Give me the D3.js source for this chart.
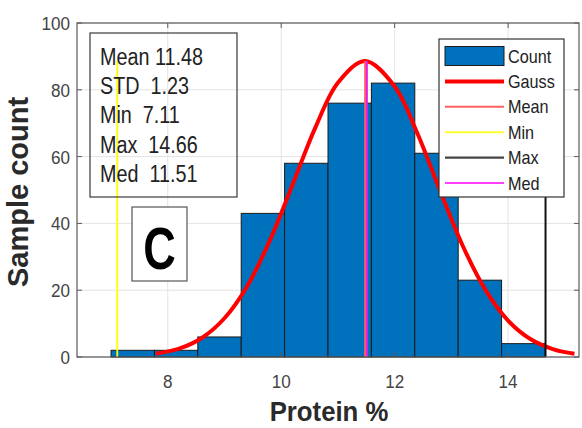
<!DOCTYPE html>
<html><head><meta charset="utf-8">
<script src="https://cdn.jsdelivr.net/npm/d3@7"></script>
<style>body{margin:0;background:#fff}svg{display:block;font-family:"Liberation Sans",Arial,sans-serif}</style>
</head><body><svg id="c" width="582" height="428"></svg>
<script>
// ---- data ----
const binEdges = [7.0, 7.765, 8.53, 9.295, 10.06, 10.825, 11.59, 12.355, 13.12, 13.885, 14.65];
const counts   = [2, 2, 6, 43, 58, 76, 82, 61, 23, 4];
const statLabels = ["Mean", "STD", "Min", "Max", "Med"];
const statValues = [11.48, 1.23, 7.11, 14.66, 11.51];
const gaussX = [7.79, 8.2, 8.6, 9.0, 9.4, 9.8, 10.2, 10.6, 11.0, 11.48, 12.0, 12.4, 12.8, 13.2, 13.6, 14.0, 14.4, 14.8, 15.17];
const gaussY = [1.0, 2.5, 5.7, 11.6, 21.2, 34.9, 51.6, 68.6, 82.1, 88.6, 81.0, 67.0, 49.8, 33.3, 20.1, 10.9, 5.3, 2.3, 1.0];
const xTicks = [8, 10, 12, 14];
const yTicks = [0, 20, 40, 60, 80, 100];
const legendNames = ["Count", "Gauss", "Mean", "Min", "Max", "Med"];
const vLineTop = 88.6;

// ---- layout ----
const svg = d3.select("#c");
const L = 77, R = 579, T = 23, B = 357;
const x = d3.scaleLinear().domain([6.4, 15.25]).range([L, R]);
const y = d3.scaleLinear().domain([0, 100]).range([B, T]);
const axisCol = "#5a5a5a", tickTxt = "#444";

// grid
const g = svg.append("g");
g.selectAll(".gx").data(xTicks).join("line")
  .attr("x1", d => x(d)).attr("x2", d => x(d)).attr("y1", T).attr("y2", B)
  .attr("stroke", "#e3e3e3").attr("stroke-width", 1);
g.selectAll(".gy").data(yTicks).join("line")
  .attr("x1", L).attr("x2", R).attr("y1", d => y(d)).attr("y2", d => y(d))
  .attr("stroke", "#e3e3e3").attr("stroke-width", 1);

// bars
const bins = counts.map((c, i) => ({x0: binEdges[i], x1: binEdges[i + 1], c}));
svg.append("g").selectAll("rect").data(bins).join("rect")
  .attr("x", d => x(d.x0)).attr("width", d => x(d.x1) - x(d.x0))
  .attr("y", d => y(d.c)).attr("height", d => y(0) - y(d.c))
  .attr("fill", "#0072BD").attr("stroke", "#1a1a1a").attr("stroke-width", 1);

// gauss
const gpts = gaussX.map((v, i) => [v, gaussY[i]]);
svg.append("path").datum(gpts)
  .attr("d", d3.line().x(d => x(d[0])).y(d => y(d[1])).curve(d3.curveCatmullRom))
  .attr("fill", "none").attr("stroke", "#ff0000").attr("stroke-width", 4);

// vertical stat lines
const vlines = [
  {v: statValues[0], c: "#ff6060", w: 2},
  {v: statValues[2], c: "#ffff00", w: 1.8},
  {v: statValues[3], c: "#111111", w: 2},
  {v: statValues[4], c: "#e61ee6", w: 2}
];
svg.append("g").selectAll("line").data(vlines).join("line")
  .attr("x1", d => x(d.v)).attr("x2", d => x(d.v)).attr("y1", y(0)).attr("y2", y(vLineTop))
  .attr("stroke", d => d.c).attr("stroke-width", d => d.w);

// axes box + ticks
const ax = svg.append("g");
ax.append("rect").attr("x", L).attr("y", T).attr("width", R - L).attr("height", B - T)
  .attr("fill", "none").attr("stroke", axisCol).attr("stroke-width", 1.2);
const tl = 5;
xTicks.forEach(t => {
  ax.append("line").attr("x1", x(t)).attr("x2", x(t)).attr("y1", B).attr("y2", B - tl).attr("stroke", axisCol);
  ax.append("line").attr("x1", x(t)).attr("x2", x(t)).attr("y1", T).attr("y2", T + tl).attr("stroke", axisCol);
  ax.append("text").attr("transform", `translate(${x(t)},388) scale(0.9,1)`)
    .attr("text-anchor", "middle").attr("font-size", 19).attr("fill", tickTxt).text(t);
});
yTicks.forEach(t => {
  ax.append("line").attr("x1", L).attr("x2", L + tl).attr("y1", y(t)).attr("y2", y(t)).attr("stroke", axisCol);
  ax.append("line").attr("x1", R).attr("x2", R - tl).attr("y1", y(t)).attr("y2", y(t)).attr("stroke", axisCol);
  ax.append("text").attr("transform", `translate(70,${y(t) + 7}) scale(0.9,1)`)
    .attr("text-anchor", "end").attr("font-size", 19).attr("fill", tickTxt).text(t);
});

// axis labels
svg.append("text").attr("transform", "translate(329,421) scale(0.92,1)")
  .attr("text-anchor", "middle").attr("font-size", 28).attr("font-weight", "bold").attr("fill", "#2a2a2a").text("Protein %");
svg.append("text").attr("transform", "translate(28,192) rotate(-90)")
  .attr("text-anchor", "middle").attr("font-size", 29).attr("font-weight", "bold").attr("fill", "#2a2a2a").text("Sample count");

// stats box
svg.append("rect").attr("x", 90).attr("y", 33).attr("width", 147).attr("height", 164)
  .attr("fill", "none").attr("stroke", "#3a3a3a").attr("stroke-width", 1.2);
const statTxt = statLabels.map((s, i) => s + (i === 0 ? " " : "  ") + statValues[i].toFixed(2));
svg.append("g").selectAll("text").data(statTxt).join("text")
  .attr("transform", (d, i) => `translate(100,${65 + i * 29.2}) scale(0.86,1)`)
  .attr("font-size", 23).attr("fill", "#222").attr("xml:space", "preserve").text(d => d);

// panel letter
svg.append("rect").attr("x", 132).attr("y", 207).attr("width", 55).attr("height", 74)
  .attr("fill", "#fff").attr("stroke", "#555").attr("stroke-width", 1.2);
svg.append("text").attr("transform", "translate(159.5,269) scale(0.75,1)")
  .attr("text-anchor", "middle").attr("font-size", 60).attr("font-weight", "bold").attr("fill", "#000").text("C");

// legend
const lg = svg.append("g");
lg.append("rect").attr("x", 439).attr("y", 39).attr("width", 125).attr("height", 158)
  .attr("fill", "#fff").attr("stroke", "#333").attr("stroke-width", 1.2);
const legStyle = [
  {type: "rect", c: "#0072BD"},
  {type: "line", c: "#ff0000", w: 4},
  {type: "line", c: "#ff6060", w: 2},
  {type: "line", c: "#ffff30", w: 2},
  {type: "line", c: "#444444", w: 2.2},
  {type: "line", c: "#ff40ff", w: 2}
];
legendNames.forEach((n, i) => {
  const cy = 56 + i * 25.4;
  const s = legStyle[i];
  if (s.type === "rect") {
    lg.append("rect").attr("x", 445).attr("y", cy - 9.5).attr("width", 59).attr("height", 19)
      .attr("fill", s.c).attr("stroke", "#1a1a1a").attr("stroke-width", 1);
  } else {
    lg.append("line").attr("x1", 445).attr("x2", 504).attr("y1", cy).attr("y2", cy)
      .attr("stroke", s.c).attr("stroke-width", s.w);
  }
  lg.append("text").attr("transform", `translate(508,${cy + 6.5}) scale(0.9,1)`)
    .attr("font-size", 18).attr("fill", "#222").text(n);
});
</script></body></html>
